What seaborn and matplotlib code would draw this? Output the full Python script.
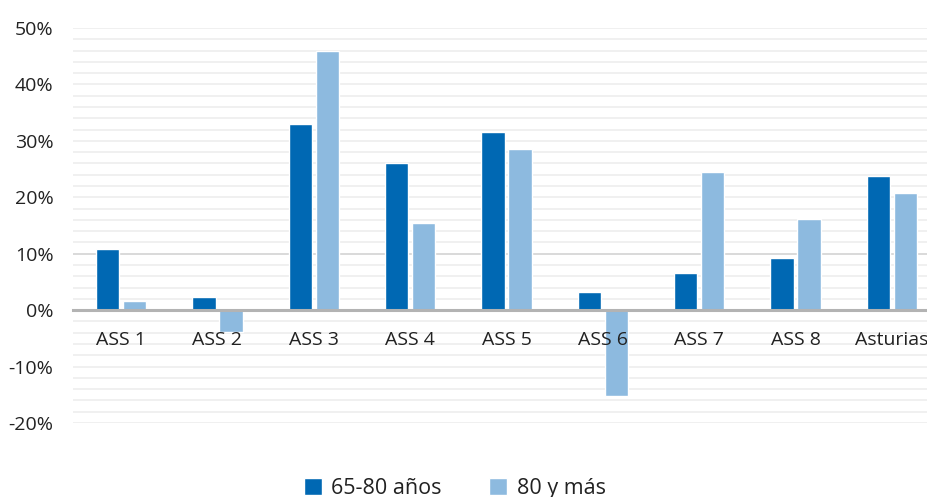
import matplotlib
matplotlib.use("Agg")
import matplotlib.pyplot as plt
from matplotlib.ticker import MultipleLocator, FuncFormatter
import seaborn as sns
import pandas as pd

# Areas and percentage change per age group
areas = ["ASS 1", "ASS 2", "ASS 3", "ASS 4", "ASS 5", "ASS 6", "ASS 7", "ASS 8", "Asturias"]
grupo_65_80 = [10.9, 2.4, 32.9, 26.0, 31.6, 3.3, 6.5, 9.3, 23.7]
grupo_80_mas = [1.7, -3.8, 46.0, 15.5, 28.5, -15.2, 24.4, 16.2, 20.7]
series_names = ["65-80 años", "80 y más"]
y_ticks = [-20, -10, 0, 10, 20, 30, 40, 50]

df = pd.DataFrame({
    "area": areas * 2,
    "valor": grupo_65_80 + grupo_80_mas,
    "grupo": [series_names[0]] * len(areas) + [series_names[1]] * len(areas),
})

sns.set_theme(style="white")
plt.rcParams["font.family"] = ["Open Sans", "DejaVu Sans"]

fig = plt.figure(figsize=(9.28, 4.97), dpi=100)
ax = fig.add_axes([73 / 928, 1 - 423 / 497, 867 / 928, 395 / 497])

colors = ["#0068b3", "#8dbadf"]
sns.barplot(data=df, x="area", y="valor", hue="grupo", hue_order=series_names,
            order=areas, palette=colors, width=0.56, gap=0.13,
            saturation=1, legend=True, ax=ax, zorder=2)

ax.set_ylim(y_ticks[0], y_ticks[-1])
ax.set_xlim(-0.5, len(areas) - 0.5)
ax.set_yticks(y_ticks)
ax.yaxis.set_minor_locator(MultipleLocator(2))
ax.yaxis.set_major_formatter(FuncFormatter(lambda v, _: f"{int(round(v))}%"))

# light horizontal grid every 2 %, kept behind the bars
ax.grid(False)
ax.grid(which="both", axis="y", color="#f0f0f0", linewidth=1.4)
ax.yaxis.set_zorder(0.5)
ax.axhline(10, color="#d6d6d6", linewidth=1.2, zorder=1)
# category labels sit on top of the bars
ax.xaxis.set_zorder(5)

for side in ["left", "right", "top"]:
    ax.spines[side].set_visible(False)
ax.spines["bottom"].set_position(("data", 0))
ax.spines["bottom"].set_color("#b3b3b3")
ax.spines["bottom"].set_linewidth(2.2)
ax.spines["bottom"].set_zorder(4)

ax.tick_params(axis="both", which="both", length=0)
ax.tick_params(axis="y", labelsize=14, pad=14, colors="#222222")
ax.tick_params(axis="x", labelsize=14, pad=15, colors="#222222")
ax.set_xlabel("")
ax.set_ylabel("")

handles, labels = ax.get_legend_handles_labels()
ax.get_legend().remove()
fig.legend(handles, labels, loc="center", bbox_to_anchor=(0.49, 0.018),
           ncol=2, frameon=False, fontsize=15.5, handlelength=0.83,
           handleheight=0.83, handletextpad=0.45, columnspacing=2.2,
           labelcolor="#222222")

fig.savefig("out.png", dpi=100)
